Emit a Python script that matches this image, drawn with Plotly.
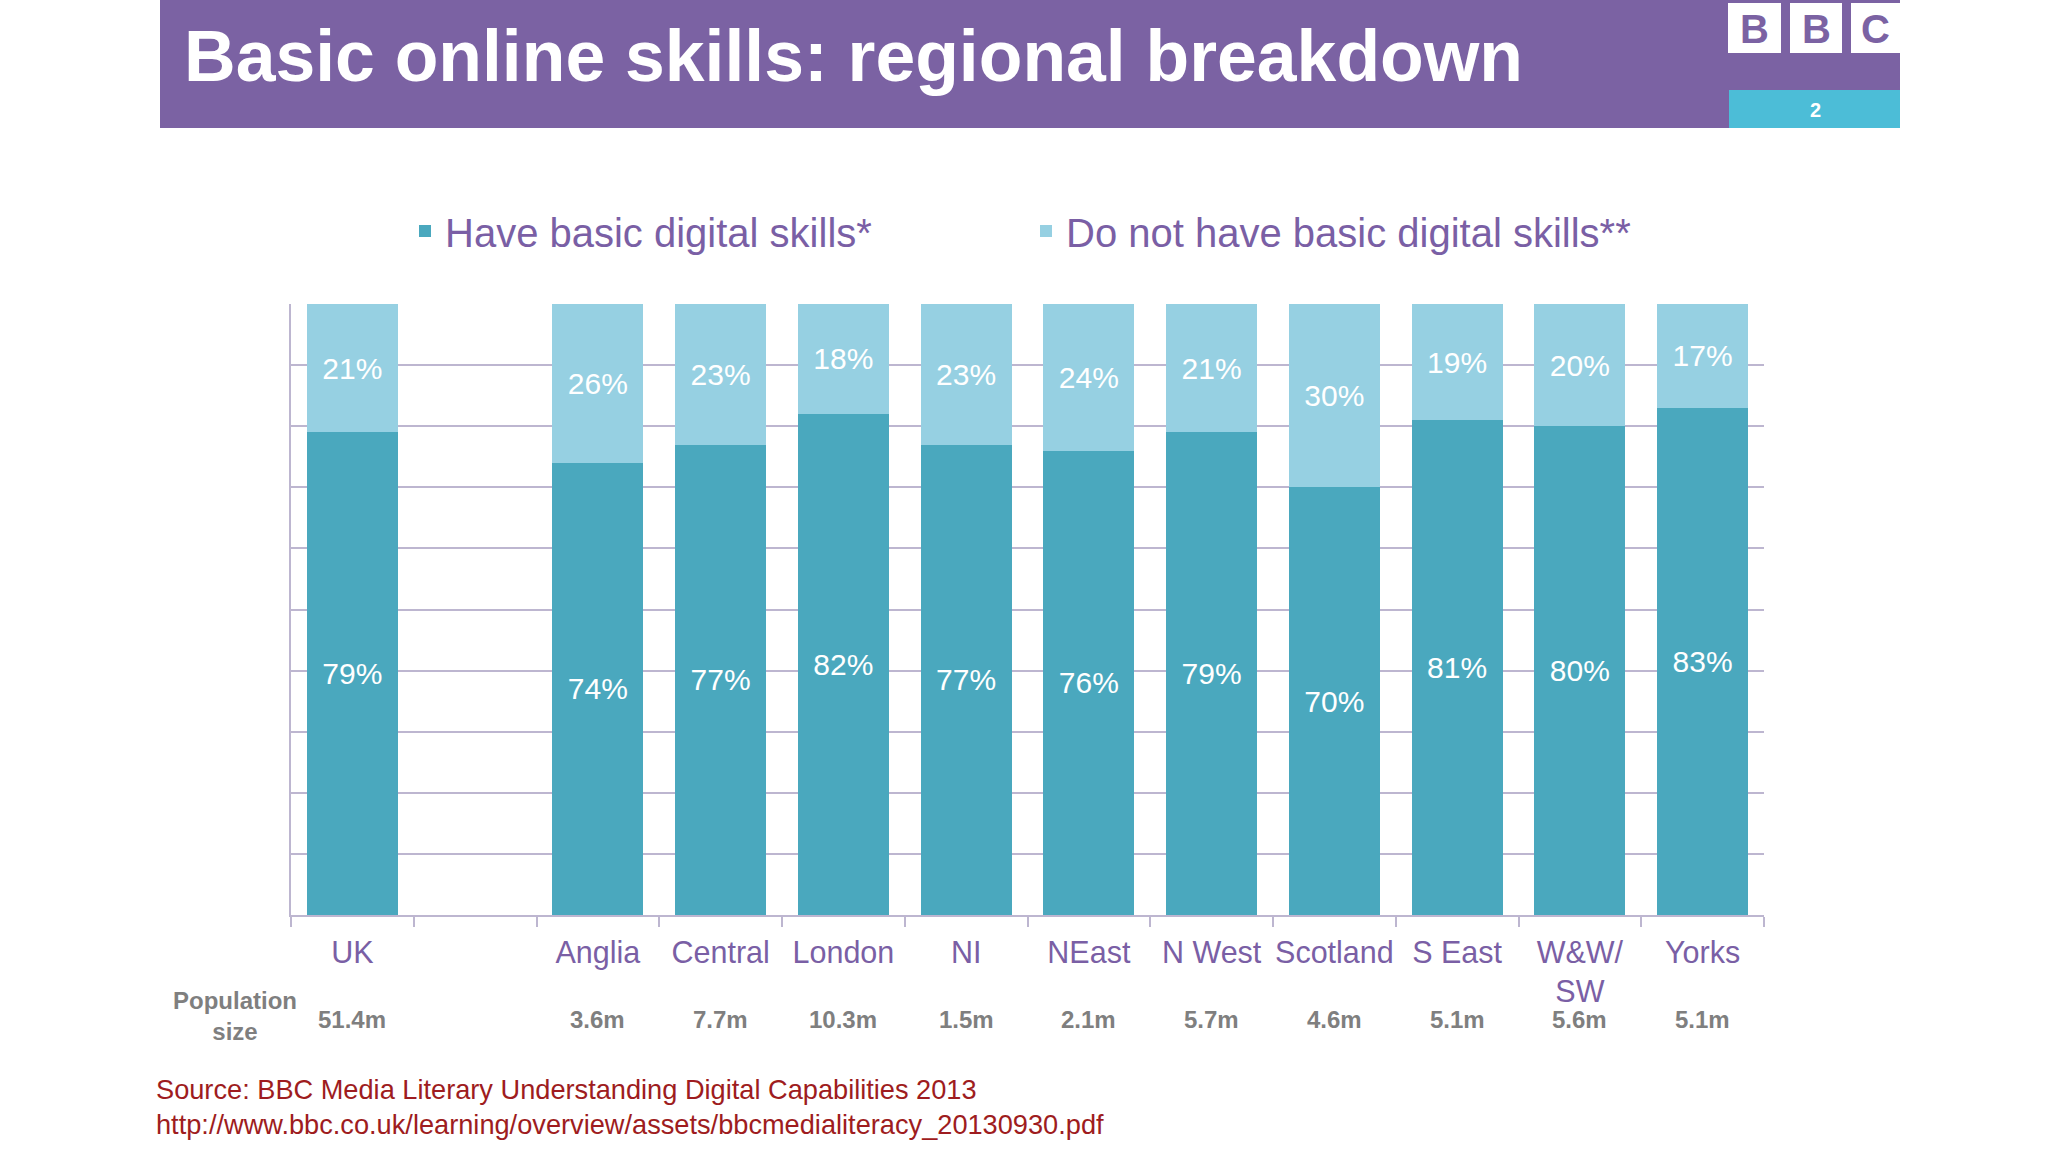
import plotly.graph_objects as go

# ---------------- data ----------------
regions = ["UK", " ", "Anglia", "Central", "London", "NI", "NEast", "N West",
           "Scotland", "S East", "W&W/<br>SW", "Yorks"]
have_skills = [79, None, 74, 77, 82, 77, 76, 79, 70, 81, 80, 83]
no_skills = [21, None, 26, 23, 18, 23, 24, 21, 30, 19, 20, 17]
population = ["51.4m", "", "3.6m", "7.7m", "10.3m", "1.5m", "2.1m", "5.7m",
              "4.6m", "5.1m", "5.6m", "5.1m"]
series_names = ["Have basic digital skills*", "Do not have basic digital skills**"]

# ---------------- styling ----------------
W, H = 2048, 1152
L, R, T, B = 291, 1764, 304, 915  # plot area in pixels
FONT = "Liberation Sans, Arial, sans-serif"
PURPLE = "#7B62A3"
TEXT_PURPLE = "#7A5FA5"
DARK = "#4AA8BE"
LIGHT = "#96D0E2"
GRID = "#BDB6D0"


def px(x):
    return (x - L) / (R - L)


def py(y):
    return (B - y) / (B - T)


def labels(vals):
    return [f"{v}%" if v is not None else "" for v in vals]


fig = go.Figure()
fig.add_trace(go.Bar(
    x=regions, y=have_skills, name=series_names[0], marker_color=DARK,
    marker_line_width=0, text=labels(have_skills), textposition="inside",
    insidetextanchor="middle", textfont=dict(color="white", size=30, family=FONT),
    hoverinfo="skip"))
fig.add_trace(go.Bar(
    x=regions, y=no_skills, name=series_names[1], marker_color=LIGHT,
    marker_line_width=0, text=labels(no_skills), textposition="inside",
    insidetextanchor="middle", textfont=dict(color="white", size=30, family=FONT),
    hoverinfo="skip"))

shapes = [
    # header band
    dict(type="rect", xref="paper", yref="paper", x0=px(160), x1=px(1900),
         y0=py(0), y1=py(128), fillcolor=PURPLE, line_width=0, layer="below"),
    # page number box
    dict(type="rect", xref="paper", yref="paper", x0=px(1729), x1=px(1900),
         y0=py(90), y1=py(128), fillcolor="#4CBDD7", line_width=0, layer="below"),
]
for x0, x1 in [(1728, 1781), (1790, 1842), (1851, 1900)]:
    shapes.append(dict(type="rect", xref="paper", yref="paper", x0=px(x0), x1=px(x1),
                       y0=py(3), y1=py(53), fillcolor="white", line_width=0,
                       layer="below"))

annotations = [
    dict(text="<b>Basic online skills: regional breakdown</b>", xref="paper",
         yref="paper", x=px(182), y=py(56), xanchor="left", yanchor="middle",
         showarrow=False, font=dict(size=71.5, color="white", family=FONT)),
    dict(text="<b>2</b>", xref="paper", yref="paper", x=px(1815), y=py(110),
         xanchor="center", yanchor="middle", showarrow=False,
         font=dict(size=20, color="white", family=FONT)),
]
for ch, cx in [("B", 1754.5), ("B", 1816), ("C", 1875.5)]:
    annotations.append(dict(text=f"<b>{ch}</b>", xref="paper", yref="paper", x=px(cx),
                            y=py(29), xanchor="center", yanchor="middle",
                            showarrow=False,
                            font=dict(size=40, color=PURPLE, family=FONT)))

for reg, pop in zip(regions, population):
    if pop:
        annotations.append(dict(text=f"<b>{pop}</b>", xref="x", yref="paper", x=reg,
                                y=py(1019), xanchor="center", yanchor="middle",
                                showarrow=False,
                                font=dict(size=24, color="#7F7F7F", family=FONT)))
annotations.append(dict(text="<b>Population<br>size</b>", xref="paper", yref="paper",
                        x=px(235), y=py(1016), xanchor="center", yanchor="middle",
                        showarrow=False,
                        font=dict(size=24, color="#7F7F7F", family=FONT)))
annotations.append(dict(
    text="Source: BBC Media Literary Understanding Digital Capabilities 2013<br>"
         "http://www.bbc.co.uk/learning/overview/assets/bbcmedialiteracy_20130930.pdf",
    xref="paper", yref="paper", x=px(154), y=py(1107), xanchor="left",
    yanchor="middle", align="left", showarrow=False,
    font=dict(size=27.2, color="#9E1C20", family=FONT)))

fig.update_layout(
    width=W, height=H,
    margin=dict(l=L, r=W - R, t=T, b=H - B, pad=0),
    barmode="stack", bargap=0.26,
    paper_bgcolor="white", plot_bgcolor="white",
    font=dict(family=FONT),
    showlegend=True,
    legend=dict(orientation="h", x=px(405), y=py(231), xanchor="left",
                yanchor="middle", font=dict(size=40, color=TEXT_PURPLE, family=FONT),
                traceorder="normal", entrywidth=576, entrywidthmode="pixels",
                bgcolor="rgba(0,0,0,0)"),
    shapes=shapes, annotations=annotations,
)
fig.update_xaxes(
    type="category", showgrid=False, showline=True, linecolor=GRID, linewidth=2,
    ticks="outside", tickson="boundaries", ticklen=10, tickcolor=GRID, tickwidth=2,
    tickangle=0,
    tickfont=dict(size=30.5, color=TEXT_PURPLE, family=FONT), ticklabelstandoff=9,
    fixedrange=True)
fig.update_yaxes(
    range=[0, 100], dtick=10, showgrid=True, gridcolor=GRID, gridwidth=2,
    showline=True, linecolor=GRID, linewidth=2, showticklabels=False,
    zeroline=False, fixedrange=True)

fig.write_html("out.html", config={"displayModeBar": False},
               post_script="document.body.style.margin='0';"
                           "document.body.style.padding='0';")
